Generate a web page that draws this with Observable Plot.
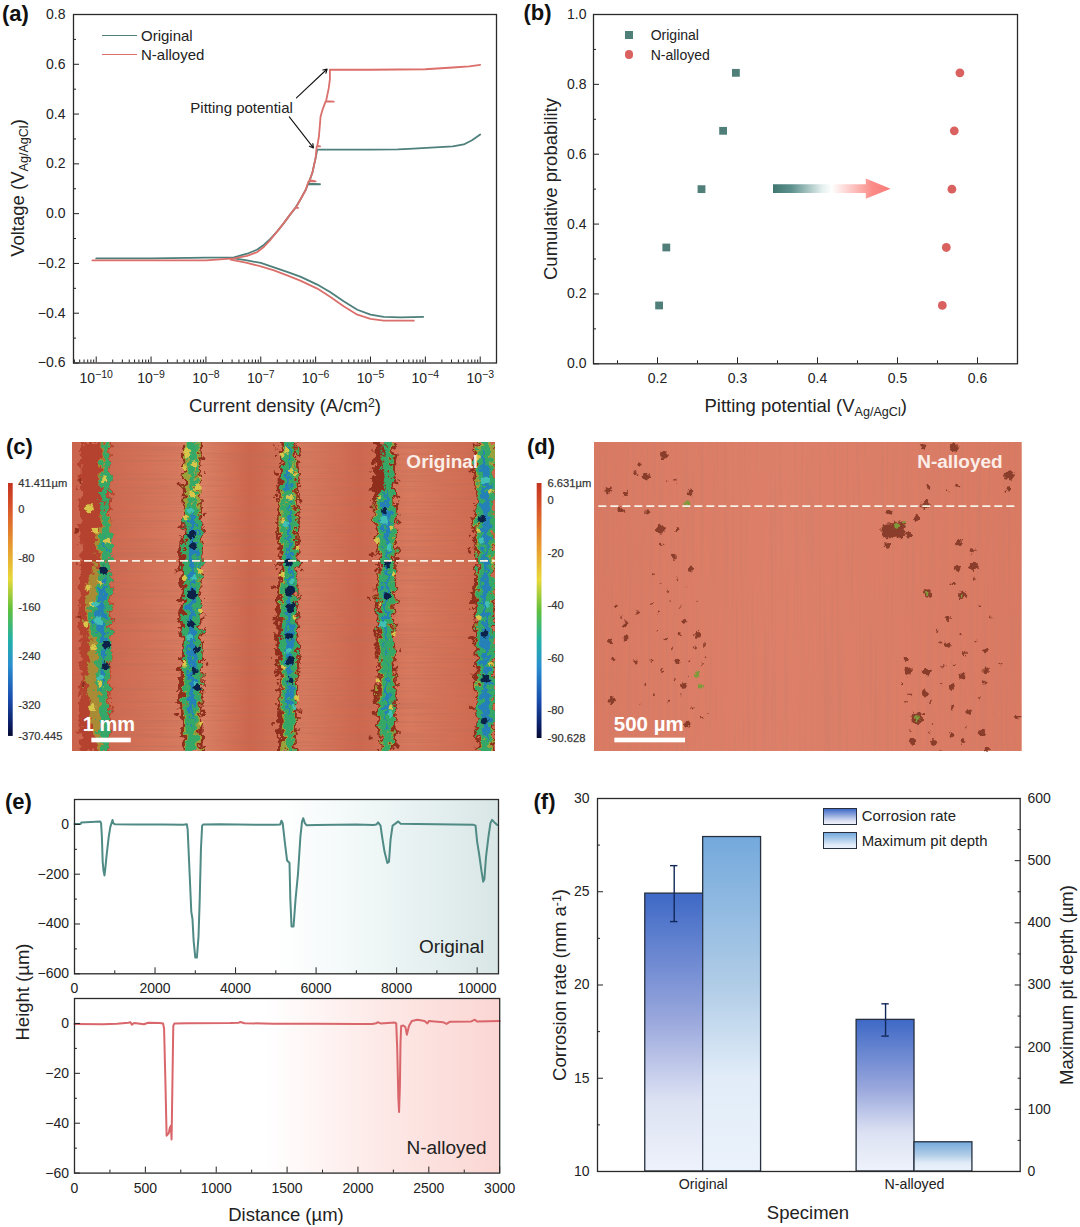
<!DOCTYPE html>
<html><head><meta charset="utf-8">
<script src="https://cdn.jsdelivr.net/npm/d3@7"></script>
<script src="https://cdn.jsdelivr.net/npm/@observablehq/plot@0.6"></script>
<style>
html,body{margin:0;padding:0;background:#fff}
#fig{position:relative;width:1080px;height:1227px;overflow:hidden;font-family:"Liberation Sans",Arial,sans-serif;color:#222}
#fig svg{overflow:visible;max-width:none}
.t{position:absolute;white-space:nowrap;line-height:1}
.s{font-size:.68em;position:relative;top:.28em}
.u{font-size:.66em;position:relative;top:-.42em}
</style></head><body><div id="fig"></div>
<script>
// ---------- (a) polarisation curves: log10 current density, voltage
const origAnodicLogI=[-10,-9,-8.3,-8,-7.49,-7.25,-7.07,-6.94,-6.82,-6.70,-6.58,-6.49,-6.37,-6.28,-6.18,-6.14,-5.92,-6.13,-6.06,-6.0,-5.97,-5.5,-5,-4.5,-4.3,-3.9,-3.5,-3.3,-3.15,-3];
const origAnodicV=[-.18,-.18,-.178,-.177,-.1755,-.161,-.145,-.125,-.10,-.071,-.038,-.011,.023,.056,.096,.118,.118,.12,.164,.224,.257,.257,.257,.258,.26,.265,.27,.278,.295,.318];
const origCathodicLogI=[-7.55,-7.25,-7,-6.76,-6.52,-6.28,-5.97,-5.73,-5.49,-5.24,-5,-4.76,-4.45,-4.04];
const origCathodicV=[-.178,-.188,-.198,-.216,-.234,-.253,-.285,-.316,-.352,-.386,-.406,-.415,-.417,-.415];
const nAnodicLogI=[-10.07,-9,-8,-7.49,-7.25,-7.07,-6.94,-6.82,-6.70,-6.58,-6.49,-6.37,-6.32,-6.36,-6.28,-6.18,-6.13,-6.0,-6.11,-6.06,-6.0,-5.98,-5.92,-5.97,-5.94,-5.91,-5.87,-5.82,-5.67,-5.81,-5.76,-5.74,-5.74,-5.7,-5,-4.5,-4,-3.5,-3.2,-3];
const nAnodicV=[-.188,-.188,-.188,-.18,-.17,-.155,-.133,-.104,-.071,-.038,-.011,.023,.023,.024,.056,.096,.13,.13,.135,.164,.224,.27,.27,.272,.31,.39,.42,.45,.45,.452,.505,.54,.578,.578,.578,.579,.58,.587,.592,.598];
const nCathodicLogI=[-7.55,-7.25,-7,-6.76,-6.52,-6.28,-5.97,-5.73,-5.49,-5.24,-5,-4.76,-4.21];
const nCathodicV=[-.185,-.198,-.212,-.228,-.248,-.269,-.301,-.335,-.372,-.406,-.423,-.43,-.43];
const decades=[-10,-9,-8,-7,-6,-5,-4,-3];
// ---------- (b) cumulative probability
const cumProb=[0.167,0.333,0.5,0.667,0.833];
const origPitting=[0.202,0.211,0.255,0.282,0.298];
const nPitting=[0.556,0.561,0.568,0.571,0.578];
const arrowX=[0.345,0.461,0.461,0.492];
const arrowLow=[0.4875,0.4875,0.471,0.5];
const arrowHigh=[0.5125,0.5125,0.529,0.5];
// ---------- (c) corroded tracks in the micrograph, per row
const rows=[35,95,155,215,275,335,395,455,515,575,635,695,755,815,875,962];
const bandEdge=[
 [245,240,240,242,240,245,240,245,240,240,240,240,245,240,240,240],
 [545,548,550,548,550,545,535,545,540,538,545,540,535,535,540,545],
 [835,838,832,835,828,832,838,835,825,830,828,825,835,835,830,838],
 [1125,1120,1115,1120,1122,1125,1135,1128,1125,1130,1125,1135,1130,1125,1130,1140],
 [1425,1415,1420,1425,1415,1420,1430,1420,1415,1425,1420,1425,1420,1425,1425,1430]];
const bandEdgeR=[
 [335,332,335,332,335,335,330,335,338,335,335,335,335,330,335,330],
 [607,605,600,603,608,610,608,605,603,605,608,610,608,612,607,612],
 [892,895,898,895,900,895,898,892,895,892,898,900,895,892,890,890],
 [1188,1185,1185,1190,1192,1190,1190,1188,1186,1185,1180,1188,1190,1190,1185,1190],
 [1484,1484,1484,1484,1484,1484,1484,1484,1484,1484,1484,1484,1484,1484,1484,1484]];
const bandMid=[
 [305,305,300,310,300,285,298,262,262,258,268,265,258,268,272,295],
 [555,556,558,556,556,554,550,555,553,548,553,552,548,550,552,560],
 [845,848,845,842,838,842,848,845,842,845,845,842,842,842,848,850],
 [1155,1150,1160,1125,1128,1132,1142,1135,1135,1135,1135,1142,1138,1135,1138,1145],
 [1430,1425,1428,1430,1425,1428,1435,1430,1428,1432,1428,1435,1430,1430,1432,1438]];
const bandMidR=[
 [330,328,332,320,335,335,328,330,332,330,335,332,330,325,330,325],
 [600,598,595,598,602,605,605,600,598,600,602,606,604,602,600,600],
 [885,888,890,888,892,888,890,888,890,885,890,892,888,888,882,880],
 [1180,1172,1175,1182,1188,1184,1182,1182,1180,1178,1175,1180,1184,1182,1178,1175],
 [1480,1482,1483,1482,1484,1482,1480,1483,1478,1480,1483,1480,1483,1482,1482,1478]];
const bandDeep=[
 [315,318,310,312,314,308,308,302,288,270,302,298,298,308,302,312],
 [575,572,576,576,562,562,558,564,560,556,560,560,562,558,566,574],
 [858,855,853,857,852,854,857,857,854,854,850,852,857,852,862,866],
 [1158,1158,1162,1138,1138,1147,1150,1147,1144,1144,1147,1152,1152,1147,1147,1157],
 [1447,1434,1442,1437,1437,1442,1442,1442,1437,1442,1437,1442,1442,1437,1437,1452]];
const bandDeepR=[
 [318,320,326,316,318,328,322,326,322,322,328,322,320,316,322,318],
 [583,584,582,579,596,596,598,590,591,593,593,598,596,590,583,582],
 [878,876,880,876,883,878,883,880,883,878,883,883,878,880,870,870],
 [1163,1163,1168,1173,1180,1173,1173,1173,1170,1168,1166,1170,1173,1176,1168,1163],
 [1453,1468,1476,1474,1476,1470,1468,1473,1468,1473,1476,1470,1476,1473,1476,1460]];
const coreX=[310,318,315,575,578,575,572,590,580,590,865,868,870,865,870,870,1160,1160,1150,1445,1450,1455,1450];
const coreY=[420,640,705,310,345,490,580,655,720,770,395,480,530,615,690,750,400,495,240,265,610,745,870];
const coreR=[4,4,3.5,4,3.5,5,4,3.5,3,3.5,4,5,4.5,3.5,4.5,3,3.5,3.5,3,3.5,3.5,4.5,3.5];
// yellow-green crusts along the track edges and cyan patches inside them
const crustX=[552,598,556,600,552,600,552,600,560,592,845,885,848,890,845,882,850,888,1135,1175,1130,1180,1138,1178,1135,1172,1430,1470,1432,1475,1435,1470,268,285,320,262,278,300,258,280,312,300,275,562,582,575,860,872,868];
const crustY=[110,140,260,420,440,540,700,880,60,170,70,130,270,350,430,560,710,800,200,290,330,430,520,610,750,830,80,180,300,390,560,700,232,300,330,470,520,455,580,650,145,760,830,70,100,190,60,120,200];
const crustR=[2.5,2,2,2.5,2.5,2,2.5,2,3,3,2.5,2,2,2,2.5,2,2,2.5,2,2,2.5,2,2,2,2.5,2,2.5,2,2,2,2.5,2,4,3,3,3,3,2.5,3,3,3,3,3.5,3.5,3,3,3,2.5,3];
const cyanX=[570,582,566,585,855,875,862,880,1150,1165,1145,1170,1455,1440,1460,295,285,300];
const cyanY=[240,440,620,760,280,450,660,830,270,350,580,850,150,330,520,570,520,740];
const cyanR=[3,3,3,2.5,3,2.5,3,2.5,4,3,3.5,3,4,3,3,4,3,3];
const flakeX=[240,228,235,250,535,528,540,530,612,620,826,820,832,818,905,898,1112,1105,1118,1195,1200,1412,1405,1408,1410,540,825,1110];
const flakeY=[150,300,560,760,160,420,610,850,250,700,130,470,690,880,420,840,370,500,780,150,660,120,360,620,830,290,560,920];
const flakeR=[2,2,2,2,2,1.8,2,2,1.5,1.5,1.8,2,2,1.8,1.5,1.5,2,1.8,2,1.5,1.5,2,2,2,2,1.5,2,2];
const colorTicksC=[41.411,0,-80,-160,-240,-320,-370.445];
const colorLabelsC=["41.411µm","0","-80","-160","-240","-320","-370.445"];
// ---------- (d) pits on the N-alloyed surface
const pitX=[430,378,265,315,345,355,300,420,380,470,510,460,420,510,285,350,315,490,300,268,315,530,550,275,345,470,505,490,275,500,440,465,
 1300,1210,1465,1465,1310,1225,1280,1215,1190,1105,1125,1105,1100,1140,1145,1165,1315,1355,1360,1310,1222,1325,1298,1360,1378,1283,1282,1260,1330,1395,1155,1163,1218,1270,1325,1395,1293,1213,1390,1165,1155,1190,1383,1345,1295,1230,1240,1175,1295,1328,1490,1400,1225,
 400,420,440,470,395,415,450,480,500,530,410,435,455,475,520,545,390,425,460,505,535,555,400,445,480,515,545,375,360,560,
 1250,1265,1320,1365,1410,1440,1210,1235,1170,1145,1340,1375,1420,1300,1260];
const pitY=[73,138,178,188,128,100,238,295,245,295,185,378,340,412,527,545,580,572,560,632,622,612,640,685,692,690,690,765,808,880,150,150,
 50,45,133,175,165,170,180,222,262,245,295,300,342,310,280,310,335,360,405,412,488,492,458,445,525,563,642,635,670,660,685,722,722,705,737,720,768,788,755,790,812,862,905,845,830,812,935,932,915,932,858,955,905,
 430,460,480,445,520,545,510,525,470,510,600,625,650,610,650,700,690,720,745,735,600,680,790,810,790,830,860,760,820,850,
 600,760,610,630,560,700,850,880,900,760,890,800,850,700,960];
const pitR=[3,3.3,2.6,2,1.7,1.3,2.3,3.6,1.7,1.7,2.3,2.3,1.3,2,1.3,1.7,2.3,2,1,2,2.3,2.3,1.3,1.7,1.7,1.7,1.3,2.3,2.3,2.6,1,1,
 3.3,2,4,1.7,1.7,1.3,1,3.3,2.3,2,6,6,2.3,4,3,2.6,2.3,2,3.3,2.6,3.3,3.3,1.3,1.3,1,2,2.3,1,1.7,2,1.7,3,3,1.3,2.6,2.6,2.6,2.3,1.7,1.3,1,4.6,3,2,1.7,1.3,2.6,2.6,2,2,1.7,2,1.3,
 .8,.8,.8,.8,.8,.8,.8,.8,.8,.8,.8,.8,.8,.8,.8,.8,.8,.8,.8,.8,.8,.8,.8,.8,.8,.8,.8,.8,.8,.8,
 .9,.9,.9,.9,.9,.9,.9,.9,.9,.9,.9,.9,.9,.9,.9];
const greenPitX=[500,530,540,1130,1150,1190,1222,1215,1325];
const greenPitY=[218,730,765,285,275,862,488,222,495];
const greenPitR=[3,2.6,2.6,3,2,3,1.7,1.3,1.3];
const colorTicksD=[6.631,0,-20,-40,-60,-80,-90.628];
const colorLabelsD=["6.631µm","0","-20","-40","-60","-80","-90.628"];
// ---------- (e) height profiles
const origDist=[0,150,170,400,640,660,680,700,720,745,770,800,850,890,920,945,960,1000,1500,2200,2700,2790,2810,2860,2900,2930,2960,3000,3040,3080,3110,3140,3170,3200,3600,4500,5000,5110,5140,5170,5230,5280,5340,5360,5390,5440,5490,5550,5610,5650,5680,5720,5760,6000,7000,7420,7500,7540,7600,7640,7700,7770,7810,7850,7900,7960,8040,8100,8500,9000,9900,9960,10000,10050,10110,10150,10180,10220,10280,10330,10370,10430,10500];
const origHeight=[2,2,8,10,12,5,-50,-150,-185,-205,-170,-120,-50,-10,5,18,5,1,0,0,-1,1,-20,-200,-350,-380,-470,-535,-535,-450,-300,-100,-5,0,1,-1,-1,0,15,5,-80,-145,-155,-300,-410,-410,-300,-200,-50,10,25,5,-3,-2,0,-2,0,8,-5,-50,-110,-155,-150,-60,-5,2,12,3,2,1,-1,-5,-70,-120,-190,-230,-220,-130,-50,5,18,8,-2];
const nDist=[0,200,300,380,395,405,420,450,490,520,600,625,632,640,650,665,672,680,685,692,697,705,800,1100,1160,1170,1200,1400,1700,2000,2100,2130,2140,2160,2260,2270,2277,2285,2290,2296,2300,2305,2320,2335,2345,2360,2380,2420,2470,2490,2500,2600,2625,2650,2800,2825,2840,3000];
const nHeight=[-.2,-.3,-.1,.3,.5,-.5,.2,0,-.3,.3,.2,0,-2,-20,-45,-44,-42,-41,-46.5,-20,-1,0,.1,.2,.3,.6,.1,-.1,-.1,-.2,-.2,.1,.5,0,.4,0,-10,-30,-35.5,-25,-8,-1,-.8,-1.5,-4.5,-1,1,1.5,1,0,1,.5,-.2,.7,.8,1.5,.8,1];
// ---------- (f) bars
const specimens=["Original","N-alloyed"];
const specimenPos=[1,2];
const corrosionRate=[24.9,18.13];
const corrosionHigh=[26.4,18.99];
const corrosionLow=[23.4,17.26];
const maxPitDepth=[538,47];

const GREEN="#4d7f7b", RED="#db6f6b", INK="#222";
const fig=document.getElementById("fig");
const DEFS=`<defs>
<linearGradient id="arrowG" x1="0" x2="1" y1="0" y2="0"><stop offset="0" stop-color="#3f7570"/><stop offset=".16" stop-color="#5f928e"/><stop offset=".42" stop-color="#e4f0ef"/><stop offset=".5" stop-color="#fff"/><stop offset=".58" stop-color="#fde4e2"/><stop offset=".85" stop-color="#fb8a86"/><stop offset="1" stop-color="#f77b78"/></linearGradient>
<linearGradient id="bgTeal" x1="0" x2="1" y1="0" y2="0"><stop offset=".48" stop-color="#fff"/><stop offset=".72" stop-color="#eef6f6"/><stop offset="1" stop-color="#d9e6e6"/></linearGradient>
<linearGradient id="bgRed" x1="0" x2="1" y1="0" y2="0"><stop offset=".45" stop-color="#fff"/><stop offset=".72" stop-color="#fde9e7"/><stop offset="1" stop-color="#fbd6d3"/></linearGradient>
<linearGradient id="gRate" x1="0" x2="0" y1="0" y2="1"><stop offset="0" stop-color="#3e69c6"/><stop offset=".45" stop-color="#98a6dc"/><stop offset=".75" stop-color="#dde2f3"/><stop offset="1" stop-color="#eef2fb"/></linearGradient>
<linearGradient id="gDepth" x1="0" x2="0" y1="0" y2="1"><stop offset="0" stop-color="#74a9dc"/><stop offset=".45" stop-color="#b1cde7"/><stop offset=".72" stop-color="#e1ecf8"/><stop offset="1" stop-color="#ebf2fb"/></linearGradient>
<linearGradient id="cbar" x1="0" x2="0" y1="0" y2="1"><stop offset="0" stop-color="#c4331f"/><stop offset=".1" stop-color="#d9552a"/><stop offset=".25" stop-color="#e89a2f"/><stop offset=".38" stop-color="#e8d93a"/><stop offset=".5" stop-color="#5fc03c"/><stop offset=".62" stop-color="#22b0a8"/><stop offset=".72" stop-color="#2a8fd0"/><stop offset=".85" stop-color="#1a4fb0"/><stop offset=".96" stop-color="#0a1a60"/><stop offset="1" stop-color="#050b30"/></linearGradient>
<linearGradient id="surfC" x1="0" x2="1" y1="0" y2="0"><stop offset="0" stop-color="#cc6249"/><stop offset=".1" stop-color="#cf6a51"/><stop offset=".31" stop-color="#da8064"/><stop offset=".42" stop-color="#cd664c"/><stop offset=".55" stop-color="#d67a5e"/><stop offset=".68" stop-color="#ce674e"/><stop offset=".8" stop-color="#d87a5e"/><stop offset="1" stop-color="#cd664c"/></linearGradient>
<linearGradient id="surfD" x1="0" x2="1" y1="0" y2="0"><stop offset="0" stop-color="#da7a63"/><stop offset=".45" stop-color="#de8069"/><stop offset="1" stop-color="#da7a63"/></linearGradient>
<filter id="rough" x="-10%" y="-5%" width="120%" height="110%"><feTurbulence type="fractalNoise" baseFrequency="0.16" numOctaves="3" seed="4"/><feDisplacementMap in="SourceGraphic" scale="15" xChannelSelector="R" yChannelSelector="G"/></filter>
<filter id="rough2" x="-10%" y="-10%" width="120%" height="120%"><feTurbulence type="fractalNoise" baseFrequency="0.25" numOctaves="2" seed="9"/><feDisplacementMap in="SourceGraphic" scale="6" xChannelSelector="R" yChannelSelector="G"/></filter>
<filter id="streakH" x="0" y="0" width="100%" height="100%"><feTurbulence type="fractalNoise" baseFrequency="0.008 0.55" numOctaves="2" seed="7"/><feColorMatrix values="0 0 0 0 .5 0 0 0 0 .15 0 0 0 0 .1 0 0 0 1.1 -.45"/></filter>
<filter id="streakV" x="0" y="0" width="100%" height="100%"><feTurbulence type="fractalNoise" baseFrequency="0.4 0.006" numOctaves="2" seed="3"/><feColorMatrix values="0 0 0 0 .55 0 0 0 0 .2 0 0 0 0 .14 0 0 0 .9 -.38"/></filter>
</defs>`;

function T(html,x,y,size,o={}){
  const d=document.createElement("div");d.className="t";d.innerHTML=html;
  d.style.left=x+"px";d.style.top=y+"px";d.style.fontSize=size+"px";
  if(o.weight)d.style.fontWeight=o.weight; if(o.color)d.style.color=o.color;
  const ax=o.anchor==="start"?"0":"-50%";
  d.style.transform=`translate(${ax},-50%)`+(o.rot?` rotate(${o.rot}deg)`:"");
  fig.appendChild(d);return d;
}
function panel(box,m,opts){
  const svg=Plot.plot({width:box.x1-box.x0+m.l+m.r,height:box.y1-box.y0+m.t+m.b,
    marginLeft:m.l,marginRight:m.r,marginTop:m.t,marginBottom:m.b,
    style:{fontFamily:'"Liberation Sans",Arial,sans-serif',fontSize:"14px",color:INK,background:"transparent"},...opts});
  svg.style.position="absolute";svg.style.left=(box.x0-m.l)+"px";svg.style.top=(box.y0-m.t)+"px";
  svg.insertAdjacentHTML("afterbegin",DEFS);
  fig.appendChild(svg);return svg;
}
function applyFilters(svg,pitFilter){
  svg.querySelectorAll('g[aria-label="area"]').forEach(g=>g.setAttribute("filter","url(#rough)"));
  svg.querySelectorAll('g[aria-label="dot"]').forEach(g=>g.setAttribute("filter","url(#rough2)"));
  svg.querySelectorAll('g[aria-label="rect"]')[1].setAttribute("filter",pitFilter);
}
const f1=d3.format(".1f"), f0=d3.format("d");
const axX=(v,gap,fmt)=>Plot.axisX(v,{tickSize:-6,tickPadding:gap+6,label:null,tickFormat:fmt});
const axY=(v,gap,fmt,anchor="left")=>Plot.axisY(v,{anchor,tickSize:-6,tickPadding:gap+6,label:null,tickFormat:fmt});
const mnX=v=>Plot.axisX(v,{tickSize:-3,fill:"none",label:null});
const mnY=(v,anchor="left")=>Plot.axisY(v,{anchor,tickSize:-3,fill:"none",label:null});
const box=()=>Plot.frame({stroke:"#2a2a2a",strokeWidth:1.3});
const pts=(xs,ys)=>xs.map((x,i)=>({x,y:ys[i]}));
const logPts=(xs,ys)=>xs.map((x,i)=>({x:10**x,y:ys[i]}));
const blobs=(xs,ys,rs)=>xs.map((x,i)=>({x,y:ys[i],r:rs[i]}));

// ===== (a)
{
  const minors=decades.concat([-11]).flatMap(e=>[2,3,4,5,6,7,8,9].map(k=>k*10**e)).filter(v=>v>10**-10.41&&v<10**-2.7);
  const svg=panel({x0:73,x1:496,y0:13.5,y1:362},{l:62,r:14,t:10,b:34},{
    x:{type:"log",domain:[10**-10.414,10**-2.703],axis:null},
    y:{domain:[-0.6,0.8],axis:null},
    marks:[
      Plot.line(logPts(origAnodicLogI,origAnodicV),{x:"x",y:"y",stroke:GREEN,strokeWidth:1.8}),
      Plot.line(logPts(origCathodicLogI,origCathodicV),{x:"x",y:"y",stroke:GREEN,strokeWidth:1.8}),
      Plot.line(logPts(nAnodicLogI,nAnodicV),{x:"x",y:"y",stroke:RED,strokeWidth:1.8}),
      Plot.line(logPts(nCathodicLogI,nCathodicV),{x:"x",y:"y",stroke:RED,strokeWidth:1.8}),
      Plot.arrow([{x1:10**-6.35,y1:.465,x2:10**-5.79,y2:.581},{x1:10**-6.48,y1:.389,x2:10**-6.04,y2:.264}],{x1:"x1",y1:"y1",x2:"x2",y2:"y2",stroke:"#111",strokeWidth:1.1,headLength:6,bend:0}),
      Plot.text(["Pitting potential"],{x:10**-7.35,y:.425,fontSize:15,fill:INK}),
      mnX(minors),axX(decades.map(e=>10**e),10.5,d=>"10|"+("\u2212"+Math.abs(Math.round(Math.log10(d))))),
      mnY([-.5,-.3,-.1,.1,.3,.5,.7]),axY([-.6,-.4,-.2,0,.2,.4,.6,.8],8,f1),box()
    ]});
  svg.querySelectorAll('[aria-label="x-axis tick label"] text').forEach(t=>{
    const [b,e]=t.textContent.split("|");t.textContent=b;
    const ts=document.createElementNS("http://www.w3.org/2000/svg","tspan");
    ts.setAttribute("dy","-5.5");ts.setAttribute("font-size","10.5");ts.textContent=e;t.appendChild(ts);
  });
  T('Current density (A/cm<span class="u">2</span>)',285,406,18.5);
  T('Voltage (V<span class="s">Ag/AgCl</span>)',18,188,18.5,{rot:-90});
  T("(a)",2,14,22,{weight:"bold",anchor:"start",color:"#111"});
  const lg=(y,c)=>{const d=document.createElement("div");d.style.cssText=`position:absolute;left:102px;top:${y}px;width:35px;height:1.5px;background:${c}`;fig.appendChild(d)};
  lg(34.5,GREEN);lg(53.5,RED);
  T("Original",141,34.5,15,{anchor:"start"});T("N-alloyed",141,54,15,{anchor:"start"});
}
// ===== (b)
{
  panel({x0:593.3,x1:1017.3,y0:14,y1:363.3},{l:50,r:14,t:10,b:34},{
    x:{domain:[0.12,0.65],axis:null},y:{domain:[0,1],axis:null},
    marks:[
      Plot.areaY(arrowX.map((x,i)=>({x,a:arrowLow[i],b:arrowHigh[i]})),{x:"x",y1:"a",y2:"b",fill:"url(#arrowG)"}),
      Plot.dot(pts(origPitting,cumProb),{x:"x",y:"y",symbol:"square",r:4.4,fill:"#4f7f78"}),
      Plot.dot(pts(nPitting,cumProb),{x:"x",y:"y",r:4.4,fill:"#d9615f"}),
      mnX([.15,.25,.35,.45,.55,.65]),axX([.2,.3,.4,.5,.6],9.4,f1),
      mnY([.1,.3,.5,.7,.9]),axY([0,.2,.4,.6,.8,1],7,f1),box()
    ]});
  T('Pitting potential (V<span class="s">Ag/AgCl</span>)',805.7,406,18.5);
  T("Cumulative probability",551,189,18.5,{rot:-90});
  T("(b)",523.5,13,22,{weight:"bold",anchor:"start",color:"#111"});
  const s=document.createElement("div");s.style.cssText="position:absolute;left:625px;top:31px;width:8px;height:8px;background:#4f7f78";fig.appendChild(s);
  const c=document.createElement("div");c.style.cssText="position:absolute;left:624.7px;top:50px;width:8.6px;height:8.6px;border-radius:50%;background:#d9615f";fig.appendChild(c);
  T("Original",650.7,35,14,{anchor:"start"});T("N-alloyed",650.7,54.5,14,{anchor:"start"});
}
// colour bars
function colorbar(x0,x1,y0,y1,dom,ticks,labels,dx){
  panel({x0,x1,y0,y1},{l:x0,r:58,t:12,b:12},{
    x:{domain:[0,1],axis:null},y:{domain:dom,axis:null},
    marks:[
      Plot.rect([0],{x1:0,x2:1,y1:dom[0],y2:dom[1],fill:"url(#cbar)"}),
      Plot.text(ticks,{x:1,y:d=>d,text:(d,i)=>labels[i],textAnchor:"start",dx,fontSize:11.2,fill:"#333",stroke:"#555",strokeWidth:.25})
    ]});
}
colorbar(8,12.7,483,736,[-370.445,41.411],colorTicksC,colorLabelsC,5);
colorbar(536.7,541.5,483,738,[-90.628,6.631],colorTicksD,colorLabelsD,5.5);

// ===== (c)
{
  const layer=(L,R)=>L.flatMap((l,b)=>rows.map((y,i)=>({band:b,y,l:l[i],r:R[b][i]})));
  const svg=panel({x0:72,x1:495,y0:442,y1:751},{l:0,r:0,t:0,b:0},{
    x:{domain:[217,1484],axis:null},y:{domain:[962,35],axis:null},r:{type:"identity"},color:{type:"identity"},
    marks:[
      Plot.rect([0],{x1:217,x2:1484,y1:35,y2:962,fill:"url(#surfC)"}),
      Plot.rect([0],{x1:217,x2:1484,y1:35,y2:962,fill:"#000"}),
      Plot.areaX(layer(bandEdge,bandEdgeR),{y:"y",x1:"l",x2:"r",z:"band",fill:d=>d.band===0?"#b4432d":"#8f2f1f",clip:true}),
      Plot.areaX(layer(bandMid,bandMidR),{y:"y",x1:"l",x2:"r",z:"band",fill:d=>d.band===0?"#a98a34":"#9aa23a",clip:true}),
      Plot.areaX(layer(bandDeep,bandDeepR),{y:"y",x1:"l",x2:"r",z:"band",fill:"#2680b8",stroke:"#35a868",strokeWidth:5,clip:true}),
      Plot.dot(blobs(flakeX,flakeY,flakeR),{x:"x",y:"y",r:"r",fill:"#8f2f1f"}),
      Plot.dot(blobs(crustX,crustY,crustR),{x:"x",y:"y",r:"r",fill:"#d8c64c"}),
      Plot.dot(blobs(cyanX,cyanY,cyanR),{x:"x",y:"y",r:"r",fill:"#3fc0b4"}),
      Plot.dot(blobs(coreX,coreY,coreR),{x:"x",y:"y",r:"r",fill:"#0a2448"}),
      Plot.ruleY([390],{stroke:"#f6f0e4",strokeWidth:1.8,strokeDasharray:"8 4"}),
      Plot.text(["Original"],{x:1217,y:92,textAnchor:"start",fontSize:19,fontWeight:"bold",fill:"#fbeee8"}),
      Plot.text(["1 mm"],{x:248,y:882,textAnchor:"start",fontSize:20,fontWeight:"bold",fill:"#fff"}),
      Plot.rect([0],{x1:275,x2:393,y1:922,y2:936,fill:"#fff"})
    ]});
  applyFilters(svg,"url(#streakH)");
  T("(c)",6,447,22,{weight:"bold",anchor:"start",color:"#111"});
}
// ===== (d)
{
  const svg=panel({x0:594,x1:1021.7,y0:442,y1:751},{l:0,r:0,t:0,b:0},{
    x:{domain:[222,1505],axis:null},y:{domain:[962,35],axis:null},r:{type:"identity"},
    marks:[
      Plot.rect([0],{x1:222,x2:1505,y1:35,y2:962,fill:"url(#surfD)"}),
      Plot.rect([0],{x1:222,x2:1505,y1:35,y2:962,fill:"#000"}),
      Plot.dot(blobs(pitX,pitY,pitR),{x:"x",y:"y",r:d=>d.r*1.25,fill:"#8a3d29"}),
      Plot.dot(blobs(greenPitX,greenPitY,greenPitR),{x:"x",y:"y",r:"r",fill:"#7f9a3a"}),
      Plot.ruleY([226],{x1:235,x2:1495,stroke:"#f8f2e6",strokeWidth:1.8,strokeDasharray:"8 4"}),
      Plot.text(["N-alloyed"],{x:1190,y:92,textAnchor:"start",fontSize:19,fontWeight:"bold",fill:"#fbeee8"}),
      Plot.text(["500 µm"],{x:280,y:880,textAnchor:"start",fontSize:20.5,fontWeight:"bold",fill:"#fff"}),
      Plot.rect([0],{x1:283,x2:495,y1:922,y2:936,fill:"#fff"})
    ]});
  applyFilters(svg,"url(#streakV)");
  T("(d)",527,447,22,{weight:"bold",anchor:"start",color:"#111"});
}
// ===== (e)
{
  const m={l:60,r:20,t:4,b:30};
  panel({x0:73.5,x1:497.5,y0:799,y1:973.3},m,{
    x:{domain:[0,10530],axis:null},y:{domain:[-600,100],axis:null},
    marks:[
      Plot.rect([0],{x1:0,x2:10530,y1:-600,y2:100,fill:"url(#bgTeal)"}),
      Plot.line(pts(origDist,origHeight),{x:"x",y:"y",stroke:"#4f8a85",strokeWidth:2}),
      Plot.text(["Original"],{x:10178,y:-493,textAnchor:"end",fontSize:19,fill:INK}),
      mnX([1000,3000,5000,7000,9000]),axX([0,2000,4000,6000,8000,10000],9.7,f0),
      mnY([-500,-300,-100]),axY([-600,-400,-200,0],5.5,f0),box()
    ]});
  panel({x0:73.5,x1:498.7,y0:997.7,y1:1172.3},m,{
    x:{domain:[0,3000],axis:null},y:{domain:[-60,10],axis:null},
    marks:[
      Plot.rect([0],{x1:0,x2:3000,y1:-60,y2:10,fill:"url(#bgRed)"}),
      Plot.line(pts(nDist,nHeight),{x:"x",y:"y",stroke:"#d9666a",strokeWidth:2}),
      Plot.text(["N-alloyed"],{x:2908,y:-49.8,textAnchor:"end",fontSize:19,fill:INK}),
      mnX([250,750,1250,1750,2250,2750]),axX([0,500,1000,1500,2000,2500,3000],10,f0),
      mnY([-50,-30,-10]),axY([-60,-40,-20,0],5.5,f0),box()
    ]});
  T("Height (µm)",23,992,18.5,{rot:-90});
  T("Distance (µm)",286,1215,18.5);
  T("(e)",5,802,22,{weight:"bold",anchor:"start",color:"#111"});
}
// ===== (f)
{
  const b={x0:597.3,x1:1020,y0:798.3,y1:1171.3}, m={l:36,r:40,t:6,b:24}, barW=.274;
  panel(b,m,{
    x:{domain:[.5,2.5],axis:null},y:{domain:[10,30],axis:null},
    marks:[
      Plot.rect(specimenPos,{x1:d=>d-barW,x2:d=>d,y1:10,y2:(d,i)=>corrosionRate[i],fill:"url(#gRate)",stroke:"#26303f",strokeWidth:1.3}),
      Plot.ruleX(specimenPos,{x:d=>d-barW/2,y1:(d,i)=>corrosionLow[i],y2:(d,i)=>corrosionHigh[i],stroke:"#12285a",strokeWidth:1.4}),
      Plot.ruleY(corrosionHigh.concat(corrosionLow),{y:d=>d,x1:(d,i)=>specimenPos[i%2]-barW/2-.0175,x2:(d,i)=>specimenPos[i%2]-barW/2+.0175,stroke:"#12285a",strokeWidth:1.4}),
      Plot.axisX(specimenPos,{tickSize:0,tickPadding:7.5,label:null,fontSize:14.2,tickFormat:(d,i)=>specimens[i]}),
      mnY([12.5,17.5,22.5,27.5]),axY([10,15,20,25,30],8,f0)
    ]});
  panel(b,m,{
    x:{domain:[.5,2.5],axis:null},y:{domain:[0,600],axis:null},
    marks:[
      Plot.rect(specimenPos,{x1:d=>d,x2:d=>d+barW,y1:0,y2:(d,i)=>maxPitDepth[i],fill:"url(#gDepth)",stroke:"#26303f",strokeWidth:1.3}),
      mnY([50,150,250,350,450,550],"right"),axY([0,100,200,300,400,500,600],7.3,f0,"right"),box()
    ]});
  T('Corrosion rate (mm a<span class="u">-1</span>)',560,985,18.5,{rot:-90});
  T("Maximum pit depth (µm)",1067,985,18.5,{rot:-90});
  T("Specimen",808,1213,18.5);
  T("(f)",533.5,802,22,{weight:"bold",anchor:"start",color:"#111"});
  const sw=(y,g)=>{const d=document.createElement("div");d.style.cssText=`position:absolute;left:823px;top:${y}px;width:31.5px;height:15px;border:1.3px solid #26303f;background:linear-gradient(${g})`;fig.appendChild(d)};
  sw(807.7,"#3e69c6,#dde2f3 80%,#eef2fb");sw(832,"#74a9dc,#e1ecf8 80%,#ebf2fb");
  T("Corrosion rate",861.7,816,14.9,{anchor:"start"});T("Maximum pit depth",861.7,841,14.9,{anchor:"start"});
}
</script></body></html>
